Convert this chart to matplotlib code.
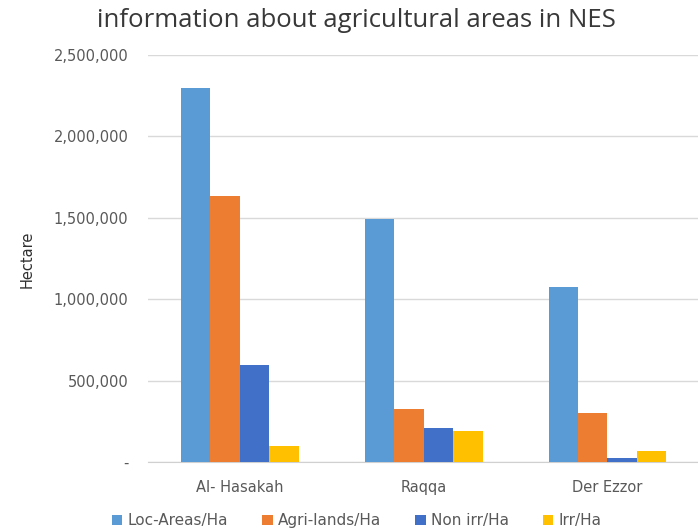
import numpy as np
import matplotlib.pyplot as plt
from matplotlib.ticker import FuncFormatter

# Datos
regions = ['Al- Hasakah', 'Raqqa', 'Der Ezzor']
series = ['Loc-Areas/Ha', 'Agri-lands/Ha', 'Non irr/Ha', 'Irr/Ha']
loc_areas = [2300000, 1490000, 1075000]
agri_lands = [1635000, 325000, 300000]
non_irr = [595000, 208000, 22000]
irr = [98000, 192000, 70000]
colors = ['#5B9BD5', '#ED7D31', '#4070C8', '#FFC000']

fig = plt.figure(figsize=(6.98, 5.32), dpi=100)
ax = fig.add_axes([0.212, 0.1316, 0.79, 0.765])

x = np.arange(len(regions))
w = 0.16
for i, vals in enumerate([loc_areas, agri_lands, non_irr, irr]):
    ax.bar(x + (i - 1.5) * w, vals, width=w, color=colors[i], label=series[i], zorder=3)

ax.set_xlim(-0.5, 2.5)
ax.set_ylim(0, 2500000)
ax.set_yticks(np.arange(0, 2500001, 500000))
ax.yaxis.set_major_formatter(FuncFormatter(lambda v, p: '-' if v == 0 else f'{int(v):,}'))
ax.set_xticks(x)
ax.set_xticklabels(regions)
ax.grid(axis='y', color='#d9d9d9', linewidth=1, zorder=0)
for s in ['top', 'right', 'left']:
    ax.spines[s].set_visible(False)
ax.spines['bottom'].set_color('#d0d0d0')
ax.tick_params(axis='both', length=0, colors='#595959', labelsize=10.5)
ax.tick_params(axis='y', pad=14)
ax.tick_params(axis='x', pad=13)

fig.text(27 / 698, 0.513, 'Hectare', rotation=90, ha='center', va='center',
         fontsize=10.5, color='#303030')

fig.text(0.511, 0.962, 'information about agricultural areas in NES',
         ha='center', va='center', fontsize=18.5, color='#383838', family='Open Sans')

fig.legend(loc='center', bbox_to_anchor=(0.511, 0.021), bbox_transform=fig.transFigure,
           ncol=4, frameon=False, fontsize=11, handlelength=0.7, handleheight=0.7,
           columnspacing=2.2, handletextpad=0.35, labelcolor='#595959',
           borderpad=0, borderaxespad=0)

plt.savefig('out.png', dpi=100)
